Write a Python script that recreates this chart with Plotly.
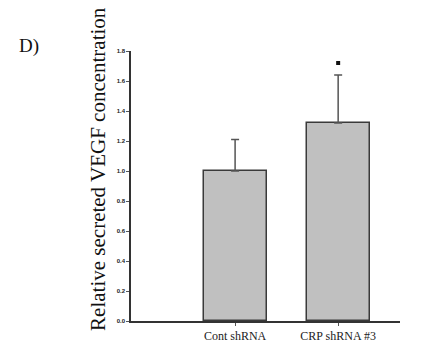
import plotly.graph_objects as go

categories = ["Cont shRNA", "CRP shRNA #3"]
values = [1.0, 1.32]
errors_up = [0.21, 0.32]
sig_marks = [None, 1.72]
y_ticks = [0.0, 0.2, 0.4, 0.6, 0.8, 1.0, 1.2, 1.4, 1.6, 1.8]
y_tick_labels = ["0.0", "0.2", "0.4", "0.6", "0.8", "1.0", "1.2", "1.4", "1.6", "1.8"]
y_title = "Relative secreted VEGF concentration"

xpos = list(range(len(categories)))

fig = go.Figure()
fig.add_trace(go.Bar(
    x=xpos, y=values, width=0.61,
    marker=dict(color="#c0c0c0", line=dict(color="#3a3a3a", width=1.5)),
    error_y=dict(type="data", symmetric=False, array=errors_up, arrayminus=[0] * len(values),
                 color="#555555", thickness=1.5, width=4),
    showlegend=False,
))
sx = [x for x, s in zip(xpos, sig_marks) if s is not None]
sy = [s for s in sig_marks if s is not None]
fig.add_trace(go.Scatter(
    x=sx, y=sy, mode="markers",
    marker=dict(symbol="square", size=4, color="#111111"),
    showlegend=False,
))

fig.update_layout(
    width=430, height=356,
    margin=dict(l=131, r=30, t=51, b=35),
    paper_bgcolor="white", plot_bgcolor="white",
    xaxis=dict(
        range=[-1.01, 1.6], tickvals=xpos, ticktext=categories,
        showline=True, linecolor="#333333", linewidth=1.5,
        ticks="outside", ticklen=3, tickcolor="#555555", tickwidth=1,
        tickfont=dict(family="Liberation Serif", size=12, color="#222222"),
        showgrid=False, zeroline=False,
    ),
    yaxis=dict(
        range=[0, 1.8], tickvals=y_ticks, ticktext=y_tick_labels,
        showline=True, linecolor="#333333", linewidth=1.5,
        ticks="outside", ticklen=3, tickcolor="#555555", tickwidth=1,
        tickfont=dict(family="Liberation Sans", size=6, color="#222222", weight="bold"),
        showgrid=False, zeroline=False,
    ),
    bargap=0,
)
fig.add_annotation(text=y_title, xref="paper", yref="paper", x=-0.123, y=0.563,
                   xanchor="center", yanchor="middle", showarrow=False, textangle=-90,
                   font=dict(family="Liberation Serif", size=21, color="#111111"))
fig.add_annotation(text="D)", xref="paper", yref="paper", x=-0.379, y=1.019,
                   xanchor="center", yanchor="middle", showarrow=False,
                   font=dict(family="Liberation Serif", size=19, color="#111111"))

fig.write_html("out.html")
